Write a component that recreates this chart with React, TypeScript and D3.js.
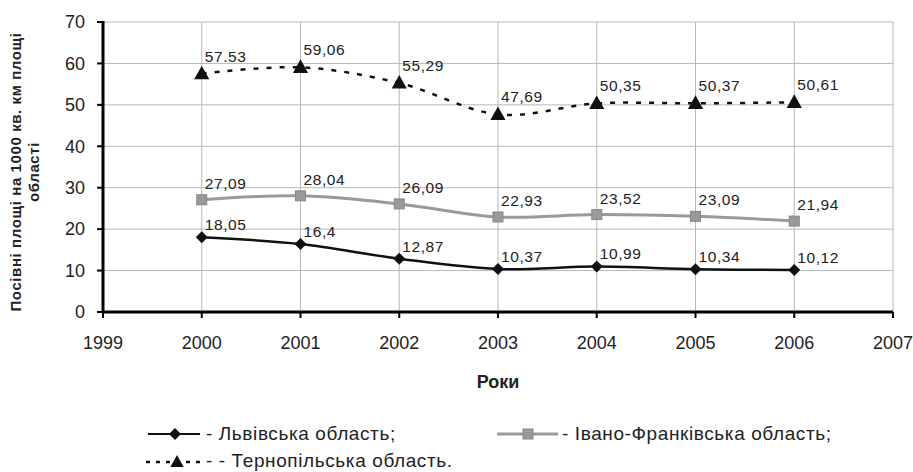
import React from "react";
import * as d3 from "d3";

const years = [2000, 2001, 2002, 2003, 2004, 2005, 2006];
const lvivValues = [18.05, 16.4, 12.87, 10.37, 10.99, 10.34, 10.12];
const ivanoValues = [27.09, 28.04, 26.09, 22.93, 23.52, 23.09, 21.94];
const ternValues = [57.53, 59.06, 55.29, 47.69, 50.35, 50.37, 50.61];
const lvivLabels = ["18,05", "16,4", "12,87", "10,37", "10,99", "10,34", "10,12"];
const ivanoLabels = ["27,09", "28,04", "26,09", "22,93", "23,52", "23,09", "21,94"];
const ternLabels = ["57.53", "59,06", "55,29", "47,69", "50,35", "50,37", "50,61"];
const xTicks = [1999, 2000, 2001, 2002, 2003, 2004, 2005, 2006, 2007];
const yTicks = [0, 10, 20, 30, 40, 50, 60, 70];

const W = 913;
const H = 472;
const margin = { top: 22, right: 20, bottom: 160, left: 103 };

const App = () => {
  const x = d3.scaleLinear().domain([1999, 2007]).range([margin.left, W - margin.right]);
  const y = d3.scaleLinear().domain([0, 70]).range([H - margin.bottom, margin.top]);

  const line = d3
    .line<number>()
    .x((_, i) => x(years[i]))
    .y((d) => y(d))
    .curve(d3.curveCatmullRom.alpha(0));

  const font = "Arial, 'Liberation Sans', sans-serif";

  const diamond = (cx: number, cy: number, r = 6) =>
    `M${cx},${cy - r}L${cx + r},${cy}L${cx},${cy + r}L${cx - r},${cy}Z`;
  const triangle = (cx: number, cy: number, r = 8) =>
    `M${cx},${cy - r}L${cx + r * 0.95},${cy + r * 0.7}L${cx - r * 0.95},${cy + r * 0.7}Z`;

  const series = [
    { values: ivanoValues, labels: ivanoLabels, stroke: "#9a9a9a", width: 3, dash: null, marker: "square", dy: -11 },
    { values: lvivValues, labels: lvivLabels, stroke: "#111", width: 2.5, dash: null, marker: "diamond", dy: -7 },
    { values: ternValues, labels: ternLabels, stroke: "#111", width: 2.5, dash: "5,8", marker: "triangle", dy: -12 },
  ];

  const marker = (kind: string, cx: number, cy: number, key: string) => {
    if (kind === "diamond") return <path key={key} d={diamond(cx, cy)} fill="#111" />;
    if (kind === "square")
      return <rect key={key} x={cx - 5} y={cy - 5} width={10} height={10} fill="#999" stroke="#888" />;
    return <path key={key} d={triangle(cx, cy)} fill="#111" />;
  };

  const x0 = margin.left;
  const x1 = W - margin.right;
  const y0 = H - margin.bottom;
  const y1 = margin.top;

  return (
    <svg width={W} height={H} style={{ position: "absolute", left: 0, top: 0, background: "#fff" }} fontFamily={font}>
      {/* grid */}
      {yTicks.filter((t) => t > 0).map((t) => (
        <line key={"gy" + t} x1={x0} x2={x1} y1={y(t)} y2={y(t)} stroke="#b8b8b8" strokeWidth={1} />
      ))}
      {xTicks.filter((t) => t > 1999).map((t) => (
        <line key={"gx" + t} x1={x(t)} x2={x(t)} y1={y1} y2={y0} stroke="#b8b8b8" strokeWidth={1} />
      ))}

      {/* axes */}
      <line x1={x0} x2={x0} y1={y1 - 1} y2={y0 + 1} stroke="#000" strokeWidth={3} />
      <line x1={x0 - 1} x2={x1} y1={y0} y2={y0} stroke="#000" strokeWidth={3} />
      {yTicks.map((t) => (
        <g key={"yt" + t}>
          <line x1={x0 - 6} x2={x0} y1={y(t)} y2={y(t)} stroke="#000" strokeWidth={2} />
          <text x={x0 - 18} y={y(t)} dy="0.35em" textAnchor="end" fontSize={18} fill="#222">
            {t}
          </text>
        </g>
      ))}
      {xTicks.map((t) => (
        <g key={"xt" + t}>
          <line x1={x(t)} x2={x(t)} y1={y0} y2={y0 + 6} stroke="#000" strokeWidth={2} />
          <text x={x(t)} y={y0 + 37} textAnchor="middle" fontSize={18} fill="#222">
            {t}
          </text>
        </g>
      ))}

      {/* axis titles */}
      <text
        transform={`translate(21,${(y0 + y1) / 2 + 5}) rotate(-90)`}
        textAnchor="middle"
        fontSize={15}
        letterSpacing={0.6}
        fontWeight="bold"
        fill="#222"
      >
        <tspan x={0} dy={0}>Посівні площі на 1000 кв. км площі</tspan>
        <tspan x={0} dy={18}>області</tspan>
      </text>
      <text x={(x0 + x1) / 2} y={388} textAnchor="middle" fontSize={18} fontWeight="bold" fill="#222">
        Роки
      </text>

      {/* series */}
      {series.map((s, si) => (
        <g key={"s" + si}>
          <path
            d={line(s.values) ?? ""}
            fill="none"
            stroke={s.stroke}
            strokeWidth={s.width}
            strokeDasharray={s.dash ?? undefined}
          />
          {s.values.map((v, i) => marker(s.marker, x(years[i]), y(v), `m${si}-${i}`))}
          {s.values.map((v, i) => (
            <text
              key={`l${si}-${i}`}
              x={x(years[i]) + 3}
              y={y(v) + s.dy}
              fontSize={15.5}
              letterSpacing={0.6}
              fill="#222"
            >
              {s.labels[i]}
            </text>
          ))}
        </g>
      ))}

      {/* legend */}
      <g fontSize={19} letterSpacing={0.6} fill="#222">
        <line x1={148} x2={200} y1={434} y2={434} stroke="#111" strokeWidth={2} />
        <path d={diamond(175, 434, 6)} fill="#111" />
        <text x={206} y={440}>- Львівська область;</text>

        <line x1={497} x2={558} y1={434} y2={434} stroke="#9a9a9a" strokeWidth={3} />
        <rect x={523} y={429} width={10} height={10} fill="#999" stroke="#888" />
        <text x={562} y={440}>- Івано-Франківська область;</text>

        <line x1={146} x2={202} y1={462} y2={462} stroke="#111" strokeWidth={2.5} strokeDasharray="4,6" />
        <path d={triangle(177, 462, 7)} fill="#111" />
        <text x={206} y={467}>- - Тернопільська область.</text>
      </g>
    </svg>
  );
};

export default App;
